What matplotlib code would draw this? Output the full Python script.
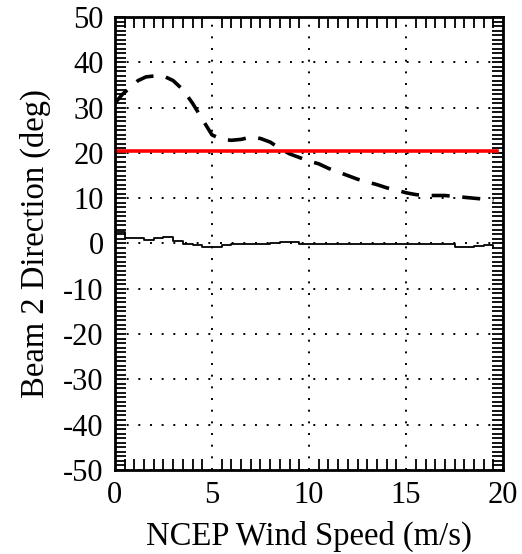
import numpy as np
import matplotlib
matplotlib.use("Agg")
import matplotlib.pyplot as plt
from matplotlib.ticker import MultipleLocator

plt.rcParams['font.family'] = ['Liberation Serif', 'DejaVu Serif']
plt.rcParams['axes.unicode_minus'] = False

# dashed curve (mean beam 2 direction vs wind speed)
dash_speed = [0.0, 0.4, 0.8, 1.2, 1.6, 2.0, 2.5, 3.0, 3.5, 4.0, 4.5, 5.0,
              5.5, 6.0, 6.5, 7.0, 7.5, 8.0, 8.5, 9.0, 9.5, 10.0, 10.5, 11.0,
              11.5, 12.0, 12.5, 13.0, 13.5, 14.0, 14.5, 15.0, 15.5, 16.0,
              16.5, 17.0, 17.5, 18.0, 18.5, 19.0, 19.5]
dash_dir = [31.0, 33.0, 34.5, 36.0, 36.8, 37.0, 37.0, 36.0, 34.0, 31.0, 27.5, 24.0,
            23.0, 22.8, 23.0, 23.5, 23.2, 22.4, 21.0, 19.8, 19.0, 18.2, 17.6, 16.6,
            15.8, 15.0, 14.2, 13.6, 13.0, 12.3, 11.8, 11.2, 10.8, 10.6,
            10.6, 10.6, 10.4, 10.2, 10.0, 9.8, 9.5]

# solid curve near zero
solid_speed = list(np.arange(0, 20, 0.5))
solid_dir = [2.5, 1.2, 1.2, 0.8, 1.2, 1.4, 0.6, -0.2, -0.4, -0.8,
             -0.8, -0.4, -0.2, -0.2, -0.2, -0.2, 0.2, 0.4, 0.3, -0.1,
             -0.1, -0.1, -0.1, -0.1, -0.1, -0.1, -0.1, -0.1, -0.1, -0.1,
             -0.1, -0.1, -0.1, -0.2, -0.2, -0.8, -0.8, -0.6, -0.3, -0.9]

# red reference level
red_x = [0.0, 19.7]
red_y = [20.5, 20.5]

fig = plt.figure(figsize=(5.22, 5.54), dpi=100)
ax = fig.add_axes([0.22, 0.152, 0.744, 0.817])

ax.plot(dash_speed, dash_dir, color='black', lw=2.6, linestyle=(0, (5, 3.5)))
ax.plot(solid_speed, solid_dir, color='black', lw=1.3, drawstyle='steps-post')
ax.plot(red_x, red_y, color='red', lw=2.6)

ax.set_xlim(0, 20)
ax.set_ylim(-50, 50)
ax.xaxis.set_major_locator(MultipleLocator(5))
ax.xaxis.set_minor_locator(MultipleLocator(0.5))
ax.yaxis.set_major_locator(MultipleLocator(10))
ax.yaxis.set_minor_locator(MultipleLocator(1))

ax.tick_params(which='both', direction='in', top=True, right=True,
               labelsize=22)
ax.tick_params(axis='x', which='major', pad=8)
ax.tick_params(axis='y', which='major', pad=8)
ax.tick_params(which='minor', length=8, width=1.3)
ax.tick_params(axis='y', which='major', length=8, width=1.3)
ax.tick_params(axis='x', which='major', length=0)

ax.grid(True, which='major', color='black', linestyle=(0, (1, 5)), lw=1.4)

for s in ax.spines.values():
    s.set_linewidth(2)

ax.set_xlabel("NCEP Wind Speed (m/s)", fontsize=23.5, labelpad=8)
ax.set_ylabel("Beam 2 Direction (deg)", fontsize=23.5)
ax.yaxis.set_label_coords(-0.165, 0.5)

fig.savefig("out.png", dpi=100)
